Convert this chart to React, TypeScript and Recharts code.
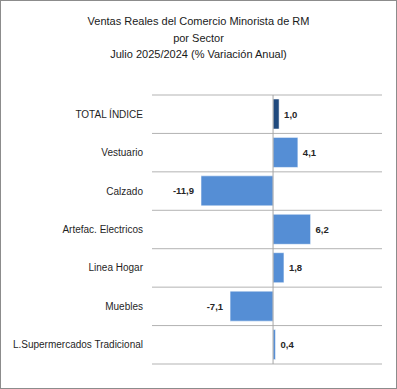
import React from 'react';
import {
  BarChart, Bar, XAxis, YAxis, CartesianGrid, ReferenceLine, LabelList, Cell
} from 'recharts';

// datos del grafico (% variacion anual)
const sectores = [
  'TOTAL ÍNDICE',
  'Vestuario',
  'Calzado',
  'Artefac. Electricos',
  'Linea Hogar',
  'Muebles',
  'L.Supermercados Tradicional',
];
const variacion = [1.0, 4.1, -11.9, 6.2, 1.8, -7.1, 0.4];
const titulo = [
  'Ventas Reales del Comercio Minorista de RM',
  'por Sector',
  'Julio 2025/2024 (% Variación Anual)',
];

const data = sectores.map((s, i) => ({ sector: s, valor: variacion[i] }));

const FONT = '"Liberation Sans", Arial, sans-serif';

// etiqueta con coma decimal, a la derecha o izquierda segun signo
const ValueLabel = (props: any) => {
  const { x, y, width, height, value } = props;
  const neg = value < 0;
  const end = x + width;
  const tx = neg ? Math.min(x, end) - 7 : Math.max(x, end) + 5;
  return (
    <text
      x={tx}
      y={y + height / 2}
      dy={3.5}
      textAnchor={neg ? 'end' : 'start'}
      fontSize={9.5}
      fontWeight="bold"
      fontFamily={FONT}
      fill="#262626"
    >
      {value.toFixed(1).replace('.', ',')}
    </text>
  );
};

// etiqueta de categoria sin salto de linea
const SectorTick = (props: any) => {
  const { x, y, payload } = props;
  return (
    <text
      x={x}
      y={y}
      dy={3.5}
      textAnchor="end"
      fontSize={10}
      fontFamily={FONT}
      fill="#1f1f1f"
    >
      {payload.value}
    </text>
  );
};

const App = () => {
  // lineas de separacion entre categorias
  const bandLines = ({ offset }: any) => {
    const n = sectores.length;
    const pts: number[] = [];
    for (let i = 0; i <= n; i++) pts.push(offset.top + (i * offset.height) / n);
    return pts;
  };

  return (
    <div
      style={{
        position: 'relative',
        width: 397,
        height: 389,
        boxSizing: 'border-box',
        border: '1px solid #8c8c8c',
        background: '#fff',
        fontFamily: FONT,
      }}
    >
      <style>{`body { margin: 0; }`}</style>
      <div
        style={{
          position: 'absolute',
          top: 12,
          left: 0,
          width: 395,
          textAlign: 'center',
          fontSize: 11,
          lineHeight: '16.5px',
          color: '#1a1a1a',
        }}
      >
        {titulo.map((t) => (
          <div key={t}>{t}</div>
        ))}
      </div>
      <BarChart
        width={395}
        height={387}
        data={data}
        layout="vertical"
        margin={{ top: 94, right: 14, bottom: 24, left: 0 }}
        barCategoryGap={4}
      >
        <CartesianGrid
          horizontal
          vertical={false}
          stroke="#b3b3b3"
          horizontalCoordinatesGenerator={bandLines}
        />
        <XAxis type="number" domain={[-20, 18]} hide />
        <YAxis
          type="category"
          dataKey="sector"
          width={151}
          axisLine={false}
          tickLine={false}
          tickMargin={3}
          interval={0}
          tick={<SectorTick />}
        />
        <ReferenceLine x={0} stroke="#a6a6a6" />
        <Bar dataKey="valor" isAnimationActive={false} stroke="#ffffff" strokeOpacity={0.5}>
          {data.map((d, i) => (
            <Cell key={d.sector} fill={i === 0 ? '#1f497d' : '#558ed5'} />
          ))}
          <LabelList dataKey="valor" content={<ValueLabel />} />
        </Bar>
      </BarChart>
    </div>
  );
};

export default App;
